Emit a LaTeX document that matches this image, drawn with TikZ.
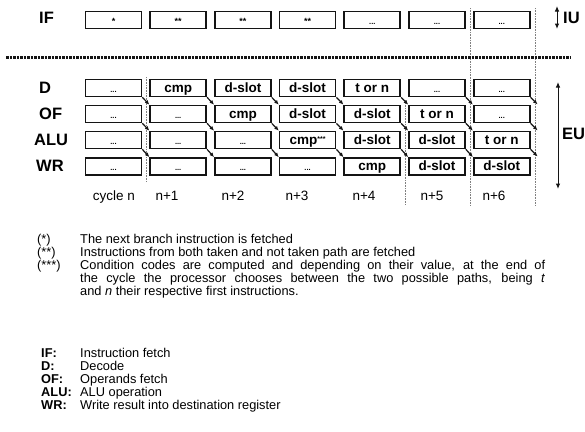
\documentclass[tikz,border=0pt]{standalone}
\usepackage{fontspec}
\setmainfont{Liberation Sans}
\usetikzlibrary{arrows.meta,positioning,calc}
\definecolor{ink}{RGB}{20,20,20}
\newcommand{\more}{{\fontsize{7.5}{7.5}\selectfont\bfseries ...}}
\newcommand{\stars}{{\fontsize{7}{7}\selectfont\raisebox{3pt}{***}}}

\begin{document}
\begin{tikzpicture}[x=1pt,y=-1pt,
  stage/.style={rectangle,draw=ink,line width=1.7pt,minimum width=56pt,minimum height=17pt,inner sep=0pt,text height=9.5pt,text depth=1.5pt,font=\fontsize{13.5}{13.5}\selectfont\bfseries},
  rowlabel/.style={anchor=west,inner sep=0pt,font=\fontsize{16.5}{16.5}\selectfont\bfseries},
  cyc/.style={anchor=base,font=\fontsize{13.5}{14}\selectfont},
  flow/.style={-{Latex[length=4.5pt,width=4pt]},line width=1.2pt,ink},
  span/.style={{Latex[length=5.5pt,width=4.5pt]}-{Latex[length=5.5pt,width=4.5pt]},line width=1pt,ink},
  grid/.style={densely dotted,gray,line width=0.6pt},
  note/.style={anchor=base west,inner sep=0pt,font=\fontsize{12.8}{13}\selectfont},
  key/.style={anchor=base west,inner sep=0pt,font=\fontsize{12.8}{13}\selectfont\bfseries}
]
\useasboundingbox (0,0) rectangle (585,431);

\draw[grid] (146,77) -- (146,182);
\draw[grid] (405,100) -- (405,205);
\draw[grid] (470,8) -- (470,205);
\draw[grid] (535,8) -- (535,205);
\draw[line width=3pt,dash pattern=on 2.5pt off 1pt,ink] (6,57) -- (570,57);

\node[rowlabel] (lif) at (39,18) {IF};
\node[rowlabel] (ld) at (39,88) {D};
\node[rowlabel] (lof) at (39,114) {OF};
\node[rowlabel] (lalu) at (34,140) {ALU};
\node[rowlabel] (lwr) at (36,166) {WR};

\foreach \t [count=\i] in {*,**,**,**,\more,\more,\more}
  \node[stage,font=\fontsize{9}{9}\selectfont\bfseries] (f\i) at ({113.5+64.7*(\i-1)},20) {\t};
\foreach \t [count=\i] in {\more,cmp,d-slot,d-slot,t or n,\more,\more}
  \node[stage] (d\i) at ({113.5+64.7*(\i-1)},88) {\t};
\foreach \t [count=\i] in {\more,\more,cmp,d-slot,d-slot,t or n,\more}
  \node[stage] (o\i) at ({113.5+64.7*(\i-1)},114) {\t};
\foreach \t [count=\i] in {\more,\more,\more,cmp\stars,d-slot,d-slot,t or n}
  \node[stage] (a\i) at ({113.5+64.7*(\i-1)},140) {\t};
\foreach \t [count=\i] in {\more,\more,\more,\more,cmp,d-slot,d-slot}
  \node[stage] (w\i) at ({113.5+64.7*(\i-1)},166.5) {\t};

\foreach \r/\s in {d/o,o/a,a/w} {
  \foreach \i [evaluate=\i as \j using int(\i+1)] in {1,...,6}
    \draw[flow] (\r\i.south east) -- (\s\j.north west);
  \coordinate (\r out) at ($(\r7.south east)+(7,7)$);
  \draw[flow] (\r7.south east) -- (\r out);
}

\foreach \t/\x [count=\i] in {cycle n/114,n+1/167,n+2/233,n+3/297,n+4/364,n+5/432,n+6/494}
  \node[cyc] (c\i) at (\x,200) {\t};

\draw[span] (557,6) -- (557,29);
\node[rowlabel] (iu) at (563,18) {IU};
\draw[span] (558,82) -- (558,189);
\node[rowlabel] (eu) at (562,134) {EU};

\node[note] (s1) at (37,243) {(*)};
\node[note] (s2) at (37,256) {(**)};
\node[note] (s3) at (37,269) {(***)};
\node[note] (t1) at (80,243) {The next branch instruction is fetched};
\node[note] (t2) at (80,256) {Instructions from both taken and not taken path are fetched};
\node[note] (t3) at (80,269) {\makebox[465pt][s]{Condition codes are computed and depending on their value, at the end of}};
\node[note] (t4) at (80,282) {\makebox[465pt][s]{the cycle the processor chooses between the two possible paths, being \textit{t}}};
\node[note] (t5) at (80,295) {and \textit{n} their respective first instructions.};

\node[key] (kif) at (41,357) {IF:};
\node[key] (kd) at (41,370) {D:};
\node[key] (kof) at (41,383) {OF:};
\node[key] (kalu) at (41,396) {ALU:};
\node[key] (kwr) at (41,409) {WR:};
\node[note] (vif) at (80,357) {Instruction fetch};
\node[note] (vd) at (80,370) {Decode};
\node[note] (vof) at (80,383) {Operands fetch};
\node[note] (valu) at (80,396) {ALU operation};
\node[note] (vwr) at (80,409) {Write result into destination register};
\end{tikzpicture}
\end{document}
